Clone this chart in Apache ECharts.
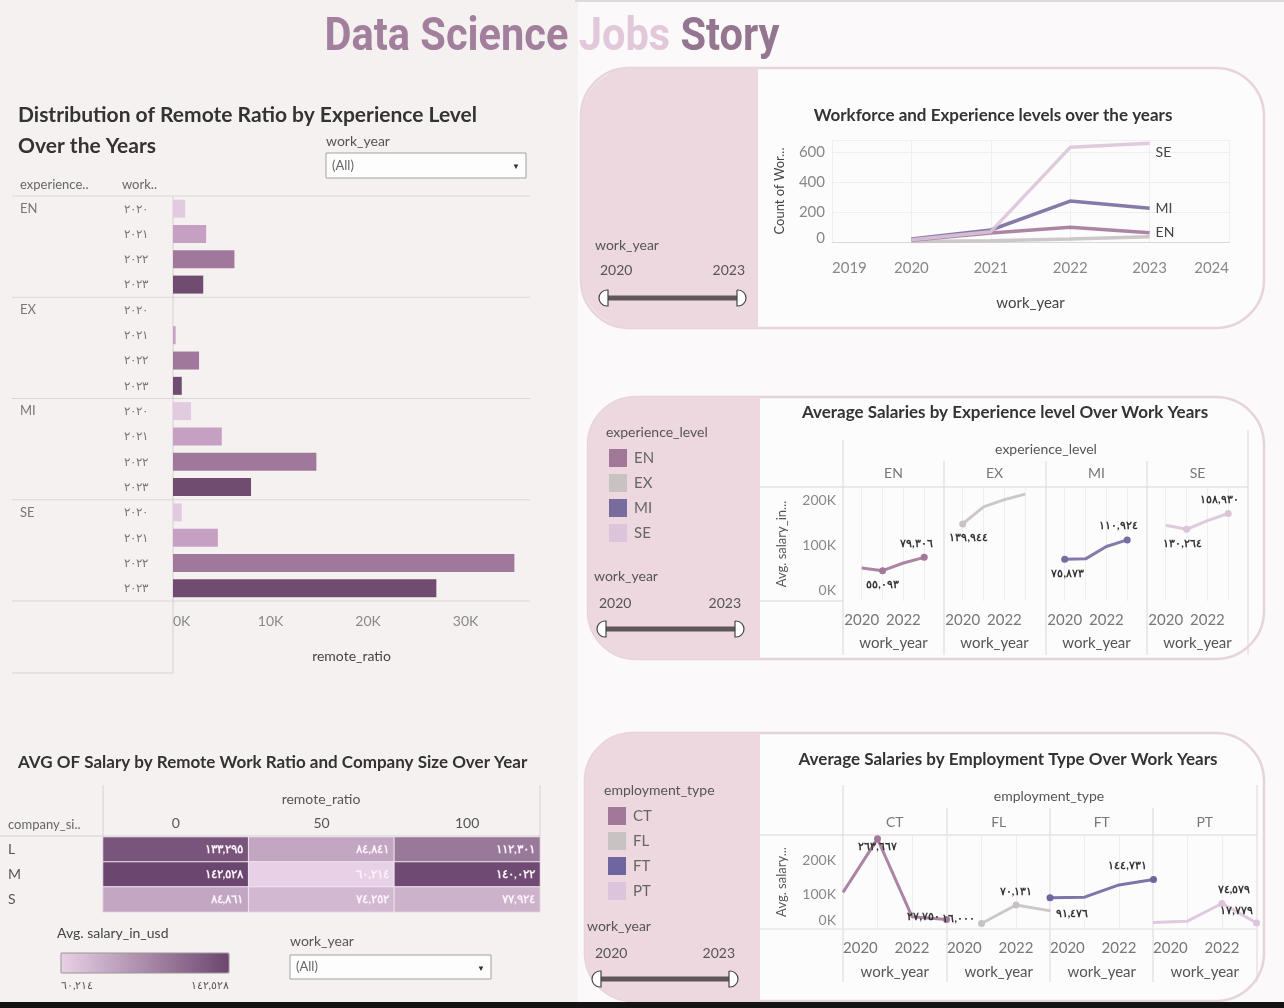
<!DOCTYPE html>
<html>
<head>
<meta charset="utf-8">
<title>Data Science Jobs Story</title>
<script src="https://cdn.jsdelivr.net/npm/echarts@6/dist/echarts.min.js"></script>
<style>
html, body { margin: 0; padding: 0; background: #fbf9f9; }
#main { width: 1284px; height: 1008px; }
</style>
</head>
<body>
<div id="main"></div>
<script>
// ---- data ----
const years = [2020, 2021, 2022, 2023];
const levels = ['EN', 'EX', 'MI', 'SE'];
const empTypes = ['CT', 'FL', 'FT', 'PT'];

// sum of remote_ratio by experience level and year
const remoteEN = [1250, 3400, 6300, 3100];
const remoteEX = [0, 270, 2670, 900];
const remoteMI = [1850, 5000, 14700, 8000];
const remoteSE = [900, 4600, 35000, 27000];

// workforce count by level and year
const wfSE = [15, 69, 631, 658];
const wfMI = [20, 80, 273, 225];
const wfEN = [12, 60, 98, 62];
const wfEX = [3, 8, 20, 35];

// average salary by experience level and year
const salEN = [60000, 55093, 69000, 79306];
const salEX = [139944, 171000, 184000, 194000];
const salMI = [75873, 76500, 99000, 110924];
const salSE = [137500, 130264, 146000, 158930];

// average salary by employment type and year (null = no data)
const empCT = [107000, 263667, 36000, 27750];
const empFL = [null, 16000, 70131, 53000];
const empFT = [91476, 93000, 129000, 144731];
const empPT = [19000, 23000, 74579, 17779];

// average salary by company size and remote ratio
const companySizes = ['L', 'M', 'S'];
const remoteRatios = ['0', '50', '100'];
const salL = [133295, 84841, 112301];
const salM = [142528, 60214, 140022];
const salS = [84861, 74252, 77924];

// ---- helpers ----
const AR = '٠١٢٣٤٥٦٧٨٩';
function ar(n, commas) {
    let s = String(Math.round(n));
    if (commas !== false) s = s.replace(/\B(?=(\d{3})+(?!\d))/g, ',');
    return s.replace(/\d/g, d => AR[d]);
}
const FONT = 'Lato, "Noto Sans", sans-serif';
function T(x, y, text, o) {
    const st = Object.assign({
        text: text, fill: '#555', fontSize: 14, fontFamily: FONT,
        align: 'left', verticalAlign: 'middle'
    }, o || {});
    st.textAlign = st.align;
    st.textVerticalAlign = st.verticalAlign;
    return { type: 'text', x: x, y: y, silent: true, z: 1, style: st };
}
function L(x1, y1, x2, y2, color, w) {
    return { type: 'line', silent: true, z: 0, shape: { x1, y1, x2, y2 },
        style: { stroke: color || '#dcd5d5', lineWidth: w || 1 } };
}
function R(x, y, w, h, fill, o) {
    return Object.assign({ type: 'rect', silent: true, z: -1,
        shape: { x, y, width: w, height: h, r: 0 }, style: { fill } }, o || {});
}
function dropdown(x, y, w, h) {
    return [
        { type: 'rect', silent: true, z: 0, shape: { x, y, width: w, height: h },
          style: { fill: '#fdfdfd', stroke: '#a3a0a0', lineWidth: 1 } },
        T(x + 6, y + h / 2, '(All)', { fill: '#666', fontSize: 13 }),
        T(x + w - 10, y + h / 2 + 1, '▼', { fill: '#333', fontSize: 8, align: 'center' })
    ];
}
function slider(x1, x2, y) {
    return [
        { type: 'rect', silent: true, z: 0, shape: { x: x1, y: y - 2.5, width: x2 - x1, height: 5 },
          style: { fill: '#5f5659' } },
        { type: 'rect', silent: true, z: 1, shape: { x: x1 - 4, y: y - 8, width: 9, height: 16, r: [8, 0, 0, 8] },
          style: { fill: '#fff', stroke: '#444', lineWidth: 1.2 } },
        { type: 'rect', silent: true, z: 1, shape: { x: x2 - 5, y: y - 8, width: 9, height: 16, r: [0, 8, 8, 0] },
          style: { fill: '#fff', stroke: '#444', lineWidth: 1.2 } }
    ];
}

// ---- layout ----
const barGrid = { left: 173, top: 196, width: 357, height: 405 };
const wfGrid = { left: 832, top: 140, width: 397, height: 102 };
const midLefts = [843, 944, 1046, 1147], midW = 101, midTop = 487, midH = 114;
const botLefts = [843, 947, 1050, 1153], botW = 103.5, botTop = 835, botH = 94;
const heatGrid = { left: 103, top: 837, width: 437, height: 75 };

const yearColors = ['#e2cbe0', '#c6a0c2', '#9f789b', '#704c71'];
const levelColor = { EN: '#a27899', EX: '#c8c2c2', MI: '#786c9e', SE: '#dcc4da' };
const empColor = { CT: '#a27899', FL: '#c8c2c2', FT: '#6f66a0', PT: '#dcc4dc' };

// label placement (index of the labelled year -> placement)
const midLabelSpec = {
    EN: { 1: { position: 'bottom' }, 3: { position: 'top', offset: [-8, 0] } },
    EX: { 0: { position: 'bottom', offset: [6, 0] } },
    MI: { 0: { position: 'bottom', offset: [3, 0] }, 3: { position: 'top', offset: [-9, 0] } },
    SE: { 1: { position: 'bottom', offset: [-4, 0] }, 3: { position: 'top', offset: [-9, 0] } }
};
const botLabelSpec = {
    CT: { 1: { position: 'inside', offset: [0, 8] }, 3: { position: 'left', offset: [2, -3] } },
    FL: { 1: { position: 'left', offset: [2, -5] }, 2: { position: 'top' } },
    FT: { 0: { position: 'bottom', offset: [22, 2] }, 3: { position: 'top', offset: [-26, 0] } },
    PT: { 2: { position: 'top', offset: [12, 0] }, 3: { position: 'top', offset: [-20, 2] } }
};

// ---- title width fit (condensed look) ----
const titleFont = 'bold 46px Roboto';
const mctx = document.createElement('canvas').getContext('2d');
mctx.font = titleFont;
const titleScale = 455 / mctx.measureText('Data Science Jobs Story').width;

// ---- axes / grids ----
const grids = [barGrid, wfGrid];
midLefts.forEach(l => grids.push({ left: l, top: midTop, width: midW, height: midH }));
botLefts.forEach(l => grids.push({ left: l, top: botTop, width: botW, height: botH }));
grids.push(heatGrid);

const xAxes = [];
const yAxes = [];
const series = [];

// bar chart
const remoteBy = { EN: remoteEN, EX: remoteEX, MI: remoteMI, SE: remoteSE };
const barCats = [];
const barData = [];
levels.forEach(l => years.forEach((y, i) => {
    barCats.push(l + '|' + y);
    barData.push({ value: remoteBy[l][i], itemStyle: { color: yearColors[i] } });
}));
xAxes.push({
    gridIndex: 0, type: 'value', min: 0, max: 36600, interval: 10000,
    axisLine: { show: false }, axisTick: { show: false }, splitLine: { show: false },
    axisLabel: { formatter: v => (v / 1000) + 'K', showMaxLabel: false, alignMinLabel: 'left',
        color: '#888', fontSize: 14, margin: 13 },
    name: 'remote_ratio', nameLocation: 'middle', nameGap: 48,
    nameTextStyle: { color: '#444', fontSize: 14 }
});
yAxes.push({
    gridIndex: 0, type: 'category', data: barCats, inverse: true,
    axisLine: { show: false }, axisTick: { show: false },
    axisLabel: { interval: 0, formatter: v => ar(v.split('|')[1], false), margin: 25, color: '#777', fontSize: 12 }
});
yAxes.push({
    gridIndex: 0, type: 'category', data: barCats, inverse: true, position: 'left',
    axisLine: { show: false }, axisTick: { show: false },
    axisLabel: { interval: 0, align: 'left', margin: 153, color: '#777', fontSize: 13,
        formatter: v => v.split('|')[1] === String(years[0]) ? v.split('|')[0] : '' }
});

// workforce line chart
xAxes.push({
    gridIndex: 1, type: 'value', min: 2019, max: 2024, interval: 1,
    axisLine: { show: true, lineStyle: { color: '#d8d8d8' } }, axisTick: { show: false },
    splitLine: { show: true, lineStyle: { color: '#efefef' } },
    axisLabel: { formatter: v => String(v), color: '#888', fontSize: 15, margin: 19,
        alignMinLabel: 'left', alignMaxLabel: 'right' },
    name: 'work_year', nameLocation: 'middle', nameGap: 54,
    nameTextStyle: { color: '#444', fontSize: 15 }
});
yAxes.push({
    gridIndex: 1, type: 'value', min: 0, max: 680, interval: 200,
    axisLine: { show: false }, axisTick: { show: false },
    splitLine: { show: true, lineStyle: { color: '#efefef' } },
    axisLabel: { showMaxLabel: false, color: '#888', fontSize: 15, margin: 7,
        formatter: v => v === 0 ? '{lo|0}' : String(v), rich: { lo: { padding: [0, 0, 8, 0] } } },
    name: 'Count of Wor...', nameLocation: 'middle', nameGap: 46,
    nameTextStyle: { color: '#444', fontSize: 13 }
});

// middle facets
midLefts.forEach((l, k) => {
    xAxes.push({
        gridIndex: 2 + k, type: 'value', min: 2019.1, max: 2023.95,
        axisLine: { show: false }, axisTick: { show: false, customValues: years },
        splitLine: { show: true, lineStyle: { color: '#f0eded' } },
        axisLabel: { customValues: [2020, 2022], formatter: v => String(v), color: '#777', fontSize: 15, margin: 12 },
        name: 'work_year', nameLocation: 'middle', nameGap: 35,
        nameTextStyle: { color: '#555', fontSize: 15 }
    });
});
midLefts.forEach((l, k) => {
    yAxes.push({
        gridIndex: 2 + k, type: 'value', min: 0, max: 207000,
        axisLine: { show: false }, axisTick: { show: false },
        splitLine: { show: false },
        axisLabel: { show: k === 0, customValues: [0, 100000, 200000], color: '#888', fontSize: 14, margin: 7,
            formatter: v => v === 0 ? '{lo|0K}' : (v === 200000 ? '{hi|200K}' : (v / 1000) + 'K'),
            rich: { lo: { padding: [0, 0, 22, 0] }, hi: { padding: [20, 0, 0, 0] } } },
        name: k === 0 ? 'Avg. salary_in...' : '', nameLocation: 'middle', nameGap: 55,
        nameTextStyle: { color: '#555', fontSize: 13 }
    });
});

// bottom facets
botLefts.forEach((l, k) => {
    xAxes.push({
        gridIndex: 6 + k, type: 'value', min: 2020, max: 2023,
        axisLine: { show: false }, axisTick: { show: false, customValues: years },
        splitLine: { show: true, lineStyle: { color: '#f0eded' } },
        axisLabel: { customValues: [2020, 2022], formatter: v => String(v), color: '#777', fontSize: 15, margin: 12,
            alignMinLabel: 'left' },
        name: 'work_year', nameLocation: 'middle', nameGap: 36,
        nameTextStyle: { color: '#555', fontSize: 15 }
    });
});
botLefts.forEach((l, k) => {
    yAxes.push({
        gridIndex: 6 + k, type: 'value', min: 0, max: 275000,
        axisLine: { show: false }, axisTick: { show: false },
        splitLine: { show: false },
        axisLabel: { show: k === 0, customValues: [0, 100000, 200000], color: '#888', fontSize: 14, margin: 7,
            formatter: v => v === 0 ? '{lo|0K}' : (v / 1000) + 'K',
            rich: { lo: { padding: [0, 0, 18, 0] } } },
        name: k === 0 ? 'Avg. salary...' : '', nameLocation: 'middle', nameGap: 55,
        nameTextStyle: { color: '#555', fontSize: 13 }
    });
});

// heatmap axes
xAxes.push({
    gridIndex: 10, type: 'category', data: remoteRatios, position: 'top',
    axisLine: { show: false }, axisTick: { show: false }, splitLine: { show: false },
    axisLabel: { color: '#555', fontSize: 14, margin: 7 }
});
yAxes.push({
    gridIndex: 10, type: 'category', data: companySizes, inverse: true,
    axisLine: { show: false }, axisTick: { show: false }, splitLine: { show: false },
    axisLabel: { color: '#555', fontSize: 14, align: 'left', margin: 95 }
});

// ---- series ----
const salBy = { EN: salEN, EX: salEX, MI: salMI, SE: salSE };
levels.forEach((lv, k) => {
    const spec = midLabelSpec[lv] || {};
    series.push({
        type: 'line', name: lv, xAxisIndex: 2 + k, yAxisIndex: 3 + k,
        color: levelColor[lv], symbol: 'none', showAllSymbol: true,
        lineStyle: { width: 3, opacity: 0.9 },
        label: { show: false, formatter: p => ar(p.value[1]), color: '#333', fontSize: 11, fontWeight: 'bold' },
        data: years.map((y, i) => {
            const d = { value: [y, salBy[lv][i]] };
            if (spec[i]) {
                d.symbol = 'circle'; d.symbolSize = 7;
                d.label = Object.assign({ show: true }, spec[i]);
            }
            return d;
        })
    });
});
const empBy = { CT: empCT, FL: empFL, FT: empFT, PT: empPT };
empTypes.forEach((et, k) => {
    const spec = botLabelSpec[et] || {};
    const data = [];
    years.forEach((y, i) => {
        const v = empBy[et][i];
        if (v == null) return;
        const d = { value: [y, v] };
        if (spec[i]) {
            d.symbol = 'circle'; d.symbolSize = 7;
            d.label = Object.assign({ show: true }, spec[i]);
        }
        data.push(d);
    });
    series.push({
        type: 'line', name: et, xAxisIndex: 6 + k, yAxisIndex: 7 + k,
        color: empColor[et], symbol: 'none', showAllSymbol: true,
        lineStyle: { width: 3, opacity: 0.9 },
        label: { show: false, formatter: p => ar(p.value[1]), color: '#333', fontSize: 11, fontWeight: 'bold' },
        data: data
    });
});
const wfBy = { SE: wfSE, MI: wfMI, EN: wfEN, EX: wfEX };
['EX', 'EN', 'MI', 'SE'].forEach(lv => {
    series.push({
        type: 'line', name: lv, xAxisIndex: 1, yAxisIndex: 2,
        color: levelColor[lv], symbol: 'none',
        lineStyle: { width: 3.5, opacity: 0.9 },
        endLabel: { show: lv !== 'EX', formatter: '{a}', color: '#444', fontSize: 14, distance: 6,
            offset: lv === 'SE' ? [0, 9] : [0, 0] },
        data: years.map((y, i) => [y, wfBy[lv][i]])
    });
});
series.push({
    type: 'bar', xAxisIndex: 0, yAxisIndex: 0, barWidth: 18, data: barData
});
const heatRows = [salL, salM, salS];
const heatData = [];
heatRows.forEach((row, yi) => row.forEach((v, xi) => heatData.push([xi, yi, v])));
const allSal = heatRows.flat();
const heatMin = Math.min.apply(null, allSal), heatMax = Math.max.apply(null, allSal);
series.push({
    type: 'heatmap', xAxisIndex: 10, yAxisIndex: 11, data: heatData,
    itemStyle: { borderColor: '#f1e6ef', borderWidth: 1 },
    label: { show: true, position: 'insideRight', distance: 6, formatter: p => ar(p.value[2]),
        color: '#fbf3fa', fontSize: 12, fontWeight: 'bold' }
});

// ---- decorations ----
const g = [];
g.push(R(0, 0, 1284, 1008, '#fbf9f9', { z: -3 }));
g.push(R(0, 0, 578, 1002, '#f6f1f1', { z: -3 }));
g.push(L(575, 1, 1284, 1, '#dddada', 2));
// panels
[[581, 68, 683, 260], [588, 397, 676, 262], [585, 733, 679, 268]].forEach(p => {
    g.push({ type: 'rect', silent: true, z: -2, shape: { x: p[0], y: p[1], width: p[2], height: p[3], r: 48 },
        style: { fill: '#fdfcfc', stroke: '#e6d4d9', lineWidth: 2.5 } });
});
g.push(R(581, 68, 177, 260, '#ecd8de', { shape: { x: 581, y: 68, width: 177, height: 260, r: [52, 0, 0, 52] } }));
g.push(R(588, 397, 172, 262, '#ecd8de', { shape: { x: 588, y: 397, width: 172, height: 262, r: [48, 0, 0, 48] } }));
g.push(R(585, 733, 175, 268, '#ecd8de', { shape: { x: 585, y: 733, width: 175, height: 268, r: [48, 0, 0, 48] } }));

// main title
g.push({ type: 'text', x: 552, y: 38.5, scaleX: titleScale, silent: true, z: 1,
    style: { text: '{a|Data Science }{b|Jobs }{c|Story}', textAlign: 'center', align: 'center',
        textVerticalAlign: 'middle', verticalAlign: 'middle', font: titleFont,
        rich: { a: { fill: '#a27f9d', color: '#a27f9d', font: titleFont },
                b: { fill: '#e1c8da', color: '#e1c8da', font: titleFont },
                c: { fill: '#957690', color: '#957690', font: titleFont } } } });

// left: bar chart frame
const bTitle = { fill: '#333', fontSize: 21, fontWeight: 'bold' };
g.push(T(18, 115, 'Distribution of Remote Ratio by Experience Level', bTitle));
g.push(T(18, 146, 'Over the Years', bTitle));
g.push(T(326, 141, 'work_year', { fill: '#555' }));
g.push(...dropdown(326, 153, 200, 25));
g.push(T(20, 185, 'experience..', { fill: '#666', fontSize: 13 }));
g.push(T(122, 185, 'work..', { fill: '#666', fontSize: 13 }));
const rowH = barGrid.height / barCats.length;
for (let i = 0; i <= levels.length; i++) {
    const y = barGrid.top + i * rowH * years.length;
    g.push(L(12, y, barGrid.left + barGrid.width, y, '#dcd5d5'));
}
g.push(L(barGrid.left, barGrid.top, barGrid.left, 673, '#d6cfcf'));
g.push(L(12, 673, barGrid.left, 673, '#d6cfcf'));

// workforce panel
const pTitle = { fill: '#333', fontSize: 17, fontWeight: 'bold', align: 'center' };
g.push(T(993, 116, 'Workforce and Experience levels over the years', pTitle));
g.push(T(595, 245, 'work_year'));
g.push(T(600, 270, String(years[0]), { fill: '#555' }));
g.push(T(745, 270, String(years[years.length - 1]), { fill: '#555', align: 'right' }));
g.push(...slider(603, 742, 298));

// middle panel
g.push(T(1005, 413, 'Average Salaries by Experience level Over Work Years', pTitle));
g.push(T(606, 432, 'experience_level'));
g.push(T(594, 576, 'work_year'));
g.push(T(599, 603, String(years[0])));
g.push(T(741, 603, String(years[years.length - 1]), { align: 'right' }));
g.push(...slider(601, 740, 629));
g.push(T(1046, 449, 'experience_level', { align: 'center' }));
levels.forEach((lv, k) => g.push(T(midLefts[k] + midW / 2, 473, lv, { fill: '#777', align: 'center' })));
g.push(L(843, 440, 843, 655, '#dcd6d6'));
g.push(L(1248, 430, 1248, 655, '#dcd6d6'));
midLefts.slice(1).forEach(x => g.push(L(x, 461, x, 655, '#dcd6d6')));
g.push(L(760, midTop, 1248, midTop, '#dcd6d6'));
g.push(L(760, midTop + midH, 843, midTop + midH, '#dcd6d6'));

// bottom panel
g.push(T(1008, 760, 'Average Salaries by Employment Type Over Work Years', pTitle));
g.push(T(604, 790, 'employment_type'));
g.push(T(587, 926, 'work_year'));
g.push(T(595, 953, String(years[0])));
g.push(T(735, 953, String(years[years.length - 1]), { align: 'right' }));
g.push(...slider(596, 734, 979));
g.push(T(1049, 796, 'employment_type', { align: 'center' }));
empTypes.forEach((et, k) => g.push(T(botLefts[k] + botW / 2, 822, et, { fill: '#777', align: 'center' })));
g.push(L(843, 785, 843, 982, '#dcd6d6'));
g.push(L(1257, 785, 1257, 982, '#dcd6d6'));
botLefts.slice(1).forEach(x => g.push(L(x, 808, x, 982, '#dcd6d6')));
g.push(L(760, botTop, 1257, botTop, '#dcd6d6'));
g.push(L(760, botTop + botH, 1257, botTop + botH, '#e2dddd'));

// heatmap frame
g.push(T(18, 763, 'AVG OF Salary by Remote Work Ratio and Company Size Over Year', { fill: '#333', fontSize: 17, fontWeight: 'bold' }));
g.push(T(321, 799, 'remote_ratio', { align: 'center' }));
g.push(T(8, 825, 'company_si..', { fill: '#666', fontSize: 13 }));
g.push(L(103, 785, 103, 912, '#d6cfcf'));
g.push(L(540, 785, 540, 837, '#d6cfcf'));
g.push(L(0, 836, 540, 836, '#d6cfcf'));
g.push(T(57, 933, 'Avg. salary_in_usd', { fill: '#444' }));
g.push({ type: 'rect', silent: true, z: 10, shape: { x: 61, y: 953, width: 168, height: 20 },
    style: { fill: null, stroke: '#9c9495', lineWidth: 1 } });
g.push(T(61, 985, ar(heatMin), { fill: '#555', fontSize: 11 }));
g.push(T(229, 985, ar(heatMax), { fill: '#555', fontSize: 11, align: 'right' }));
g.push(T(290, 941, 'work_year'));
g.push(...dropdown(290, 955, 201, 24));
g.push(R(0, 1002, 1284, 6, '#141414', { z: 2 }));

const option = {
    backgroundColor: '#fbf9f9',
    animation: false,
    textStyle: { fontFamily: FONT },
    grid: grids,
    xAxis: xAxes,
    yAxis: yAxes,
    legend: [
        { data: levels, left: 604, top: 444, orient: 'vertical', icon: 'rect', itemWidth: 18, itemHeight: 18,
          itemGap: 7, selectedMode: false, textStyle: { color: '#666', fontSize: 15, padding: [0, 0, 0, 2] } },
        { data: empTypes, left: 603, top: 802, orient: 'vertical', icon: 'rect', itemWidth: 18, itemHeight: 18,
          itemGap: 7, selectedMode: false, textStyle: { color: '#666', fontSize: 15, padding: [0, 0, 0, 2] } }
    ],
    visualMap: {
        type: 'continuous', seriesIndex: series.length - 1, min: heatMin, max: heatMax,
        orient: 'horizontal', left: 61, top: 953, padding: 0, itemWidth: 20, itemHeight: 168,
        calculable: false, hoverLink: false,
        inRange: { color: ['#e8d0e6', '#6b466e'] }
    },
    graphic: { elements: g },
    series: series
};

const chart = echarts.init(document.getElementById('main'));
chart.setOption(option);
</script>
</body>
</html>
